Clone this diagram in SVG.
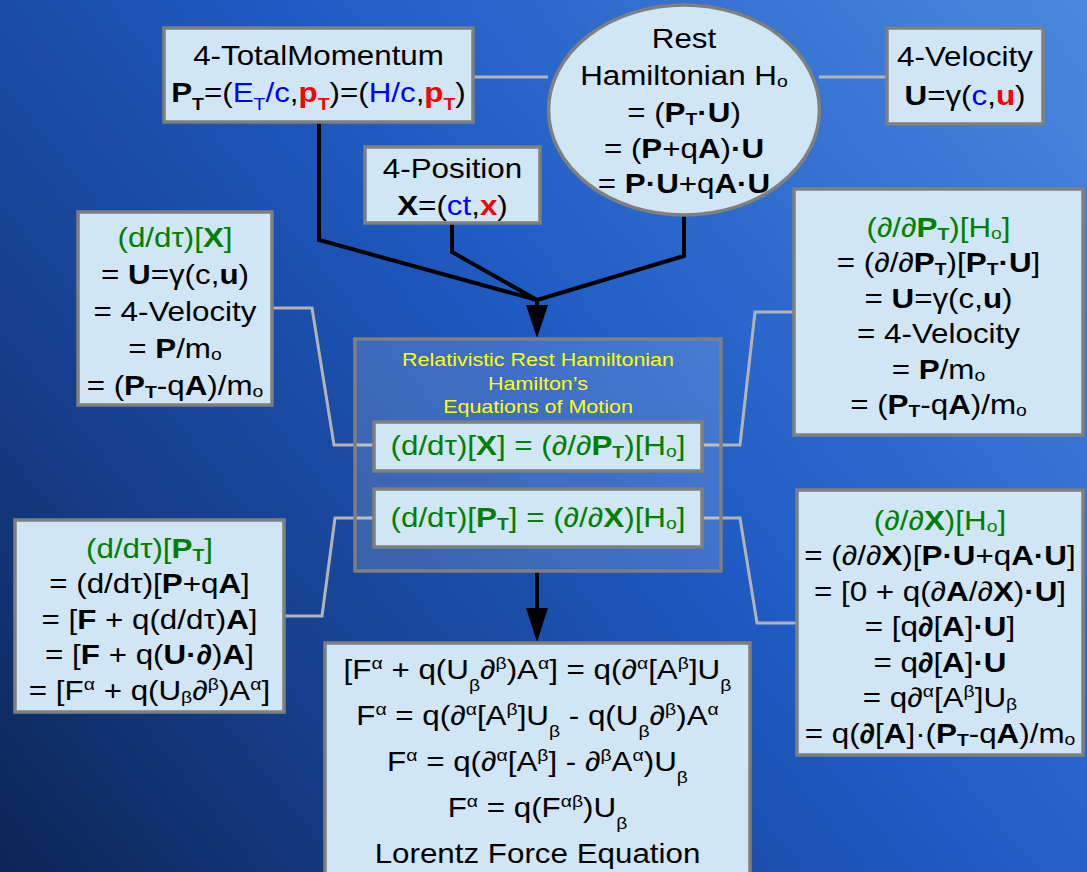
<svg xmlns="http://www.w3.org/2000/svg" width="1087" height="872" viewBox="0 0 1087 872">
<defs>
<linearGradient id="bg" gradientUnits="userSpaceOnUse" x1="0" y1="872" x2="1087" y2="0">
<stop offset="0" stop-color="#0b2555"/>
<stop offset="0.25" stop-color="#163f8c"/>
<stop offset="0.55" stop-color="#1f5bc4"/>
<stop offset="1" stop-color="#4a88df"/>
</linearGradient>
<style>
text { font-family: "Liberation Sans", Arial, Helvetica, sans-serif; font-size: 27.5px; text-anchor: middle; fill: #000; }
.b { font-weight: bold; }
.g { fill: #008000; }
.bl { fill: #0000ff; }
.r { fill: #ff0000; }
.s { font-size: 17px; }
.y { fill: #ffff00; font-size: 19px; }
.box { fill: #d0e6f4; stroke: #7f7f7f; stroke-width: 3.5; }
.gl { fill: none; stroke: #b3b3b3; stroke-width: 3; }
.bk { fill: none; stroke: #000; stroke-width: 4; stroke-linejoin: miter; }
.ah { fill: #000; }
</style>
</defs>
<rect x="0" y="0" width="1087" height="872" fill="url(#bg)"/>

<g id="connectors">
<polyline class="gl" points="473,77 548,77"/>
<polyline class="gl" points="819,77 887,77"/>
<polyline class="gl" points="272,308 312,308 334,445 374,445"/>
<polyline class="gl" points="702,445 740,445 755,312 794,312"/>
<polyline class="gl" points="284,616 322,616 335,518 374,518"/>
<polyline class="gl" points="702,518 740,518 757,623 797,623"/>
<polyline class="bk" points="319,122 319,240 537,300"/>
<polyline class="bk" points="452,223 452,252 537,300"/>
<polyline class="bk" points="684,215 684,256 537,300"/>
<line class="bk" x1="537" y1="299" x2="537" y2="308"/>
<polygon class="ah" points="526,305 548,305 537,338"/>
<line class="bk" x1="537" y1="571" x2="537" y2="611"/>
<polygon class="ah" points="526,608 548,608 537,642"/>
</g>

<g id="n-totalmomentum">
<rect class="box" x="164" y="28" width="309" height="94"/>
<g transform="translate(318.5 0) scale(1.14 1)">
<text x="0" y="65">4-TotalMomentum</text>
<text x="0" y="102"><tspan class="b">P</tspan><tspan class="s b" dy="8">T</tspan><tspan dy="-8">=(</tspan><tspan class="bl">E</tspan><tspan class="s bl" dy="8">T</tspan><tspan class="bl" dy="-8">/c</tspan>,<tspan class="b r">p</tspan><tspan class="s b r" dy="8">T</tspan><tspan dy="-8">)=(</tspan><tspan class="bl">H/c</tspan>,<tspan class="b r">p</tspan><tspan class="s b r" dy="8">T</tspan><tspan dy="-8">)</tspan></text>
</g>
</g>

<g id="n-resthamiltonian">
<ellipse class="box" cx="684" cy="110" rx="135.5" ry="105"/>
<g transform="translate(684 0) scale(1.14 1)">
<text x="0" y="48">Rest</text>
<text x="0" y="85">Hamiltonian H<tspan class="s" dy="2">o</tspan></text>
<text x="0" y="122">= (<tspan class="b">P</tspan><tspan class="s b" dy="3">T</tspan><tspan class="b" dy="-3">·U</tspan>)</text>
<text x="0" y="158">= (<tspan class="b">P</tspan>+q<tspan class="b">A</tspan>)<tspan class="b">·U</tspan></text>
<text x="0" y="193">= <tspan class="b">P·U</tspan>+q<tspan class="b">A·U</tspan></text>
</g>
</g>

<g id="n-velocity">
<rect class="box" x="887" y="28" width="156" height="96"/>
<g transform="translate(965 0) scale(1.14 1)">
<text x="0" y="66">4-Velocity</text>
<text x="0" y="105"><tspan class="b">U</tspan>=γ(<tspan class="bl">c</tspan>,<tspan class="b r">u</tspan>)</text>
</g>
</g>

<g id="n-position">
<rect class="box" x="365" y="147" width="175" height="76"/>
<g transform="translate(452.5 0) scale(1.14 1)">
<text x="0" y="178">4-Position</text>
<text x="0" y="215"><tspan class="b">X</tspan>=(<tspan class="bl">ct</tspan>,<tspan class="b r">x</tspan>)</text>
</g>
</g>

<g id="n-dxdtau">
<rect class="box" x="78" y="212" width="194" height="193"/>
<g transform="translate(175 0) scale(1.14 1)">
<text x="0" y="247" class="g">(d/dτ)[<tspan class="b">X</tspan>]</text>
<text x="0" y="284">= <tspan class="b">U</tspan>=γ(c,<tspan class="b">u</tspan>)</text>
<text x="0" y="321">= 4-Velocity</text>
<text x="0" y="358">= <tspan class="b">P</tspan>/m<tspan class="s" dy="2">o</tspan></text>
<text x="0" y="395">= (<tspan class="b">P</tspan><tspan class="s b" dy="3">T</tspan><tspan dy="-3">-q</tspan><tspan class="b">A</tspan>)/m<tspan class="s" dy="2">o</tspan></text>
</g>
</g>

<g id="n-dhdpt">
<rect class="box" x="794" y="189" width="289" height="246"/>
<g transform="translate(938.5 0) scale(1.14 1)">
<text x="0" y="237" class="g">(∂/∂<tspan class="b">P</tspan><tspan class="s b" dy="3">T</tspan><tspan dy="-3">)[H</tspan><tspan class="s" dy="2">o</tspan><tspan dy="-2">]</tspan></text>
<text x="0" y="272.5">= (∂/∂<tspan class="b">P</tspan><tspan class="s b" dy="3">T</tspan><tspan dy="-3">)[</tspan><tspan class="b">P</tspan><tspan class="s b" dy="3">T</tspan><tspan class="b" dy="-3">·U</tspan>]</text>
<text x="0" y="308">= <tspan class="b">U</tspan>=γ(c,<tspan class="b">u</tspan>)</text>
<text x="0" y="343.5">= 4-Velocity</text>
<text x="0" y="379">= <tspan class="b">P</tspan>/m<tspan class="s" dy="2">o</tspan></text>
<text x="0" y="414.5">= (<tspan class="b">P</tspan><tspan class="s b" dy="3">T</tspan><tspan dy="-3">-q</tspan><tspan class="b">A</tspan>)/m<tspan class="s" dy="2">o</tspan></text>
</g>
</g>

<g id="n-hamilton">
<rect x="355" y="339" width="366" height="232" fill="#ffffff" fill-opacity="0.15" stroke="#7f7f7f" stroke-width="3.5"/>
<g transform="translate(538 0) scale(1.13 1)">
<text x="0" y="366" class="y">Relativistic Rest Hamiltonian</text>
<text x="0" y="390" class="y">Hamilton’s</text>
<text x="0" y="413" class="y">Equations of Motion</text>
</g>
</g>

<g id="n-eq1">
<rect class="box" x="374" y="422" width="328" height="49"/>
<g transform="translate(538 0) scale(1.14 1)">
<text x="0" y="455" class="g">(d/dτ)[<tspan class="b">X</tspan>] = (∂/∂<tspan class="b">P</tspan><tspan class="s b" dy="3">T</tspan><tspan dy="-3">)[H</tspan><tspan class="s" dy="2">o</tspan><tspan dy="-2">]</tspan></text>
</g>
</g>

<g id="n-eq2">
<rect class="box" x="374" y="489" width="328" height="58"/>
<g transform="translate(538 0) scale(1.14 1)">
<text x="0" y="527" class="g">(d/dτ)[<tspan class="b">P</tspan><tspan class="s b" dy="3">T</tspan><tspan dy="-3">] = (∂/∂</tspan><tspan class="b">X</tspan>)[H<tspan class="s" dy="2">o</tspan><tspan dy="-2">]</tspan></text>
</g>
</g>

<g id="n-dptdtau">
<rect class="box" x="15" y="520" width="269" height="192"/>
<g transform="translate(149.5 0) scale(1.14 1)">
<text x="0" y="558" class="g">(d/dτ)[<tspan class="b">P</tspan><tspan class="s b" dy="3">T</tspan><tspan dy="-3">]</tspan></text>
<text x="0" y="593.5">= (d/dτ)[<tspan class="b">P</tspan>+q<tspan class="b">A</tspan>]</text>
<text x="0" y="629">= [<tspan class="b">F</tspan> + q(d/dτ)<tspan class="b">A</tspan>]</text>
<text x="0" y="664.5">= [<tspan class="b">F</tspan> + q(<tspan class="b">U·∂</tspan>)<tspan class="b">A</tspan>]</text>
<text x="0" y="700">= [F<tspan class="s" dy="-10">α</tspan><tspan dy="10"> + q(U</tspan><tspan class="s" dy="3">β</tspan><tspan dy="-3">∂</tspan><tspan class="s" dy="-10">β</tspan><tspan dy="10">)A</tspan><tspan class="s" dy="-10">α</tspan><tspan dy="10">]</tspan></text>
</g>
</g>

<g id="n-dhdx">
<rect class="box" x="797" y="490" width="286" height="265"/>
<g transform="translate(940 0) scale(1.14 1)">
<text x="0" y="530" class="g">(∂/∂<tspan class="b">X</tspan>)[H<tspan class="s" dy="2">o</tspan><tspan dy="-2">]</tspan></text>
<text x="0" y="565.5">= (∂/∂<tspan class="b">X</tspan>)[<tspan class="b">P·U</tspan>+q<tspan class="b">A·U</tspan>]</text>
<text x="0" y="601">= [0 + q(∂<tspan class="b">A</tspan>/∂<tspan class="b">X</tspan>)<tspan class="b">·U</tspan>]</text>
<text x="0" y="636.5">= [q<tspan class="b">∂</tspan>[<tspan class="b">A</tspan>]<tspan class="b">·U</tspan>]</text>
<text x="0" y="672">= q<tspan class="b">∂</tspan>[<tspan class="b">A</tspan>]<tspan class="b">·U</tspan></text>
<text x="0" y="707.5">= q∂<tspan class="s" dy="-10">α</tspan><tspan dy="10">[A</tspan><tspan class="s" dy="-10">β</tspan><tspan dy="10">]U</tspan><tspan class="s" dy="3">β</tspan></text>
<text x="0" y="743">= q(<tspan class="b">∂</tspan>[<tspan class="b">A</tspan>]·(<tspan class="b">P</tspan><tspan class="s b" dy="3">T</tspan><tspan dy="-3">-q</tspan><tspan class="b">A</tspan>)/m<tspan class="s" dy="2">o</tspan></text>
</g>
</g>

<g id="n-lorentz">
<rect class="box" x="325" y="643" width="425" height="240"/>
<g transform="translate(537.5 0) scale(1.14 1)">
<text x="0" y="679">[F<tspan class="s" dy="-10">α</tspan><tspan dy="10"> + q(U</tspan><tspan class="s" dy="12">β</tspan><tspan dy="-12">∂</tspan><tspan class="s" dy="-10">β</tspan><tspan dy="10">)A</tspan><tspan class="s" dy="-10">α</tspan><tspan dy="10">] = q(∂</tspan><tspan class="s" dy="-10">α</tspan><tspan dy="10">[A</tspan><tspan class="s" dy="-10">β</tspan><tspan dy="10">]U</tspan><tspan class="s" dy="12">β</tspan></text>
<text x="0" y="725">F<tspan class="s" dy="-10">α</tspan><tspan dy="10"> = q(∂</tspan><tspan class="s" dy="-10">α</tspan><tspan dy="10">[A</tspan><tspan class="s" dy="-10">β</tspan><tspan dy="10">]U</tspan><tspan class="s" dy="12">β</tspan><tspan dy="-12"> - q(U</tspan><tspan class="s" dy="12">β</tspan><tspan dy="-12">∂</tspan><tspan class="s" dy="-10">β</tspan><tspan dy="10">)A</tspan><tspan class="s" dy="-10">α</tspan></text>
<text x="0" y="771">F<tspan class="s" dy="-10">α</tspan><tspan dy="10"> = q(∂</tspan><tspan class="s" dy="-10">α</tspan><tspan dy="10">[A</tspan><tspan class="s" dy="-10">β</tspan><tspan dy="10">] - ∂</tspan><tspan class="s" dy="-10">β</tspan><tspan dy="10">A</tspan><tspan class="s" dy="-10">α</tspan><tspan dy="10">)U</tspan><tspan class="s" dy="12">β</tspan></text>
<text x="0" y="817">F<tspan class="s" dy="-10">α</tspan><tspan dy="10"> = q(F</tspan><tspan class="s" dy="-10">αβ</tspan><tspan dy="10">)U</tspan><tspan class="s" dy="12">β</tspan></text>
<text x="0" y="863">Lorentz Force Equation</text>
</g>
</g>
</svg>
